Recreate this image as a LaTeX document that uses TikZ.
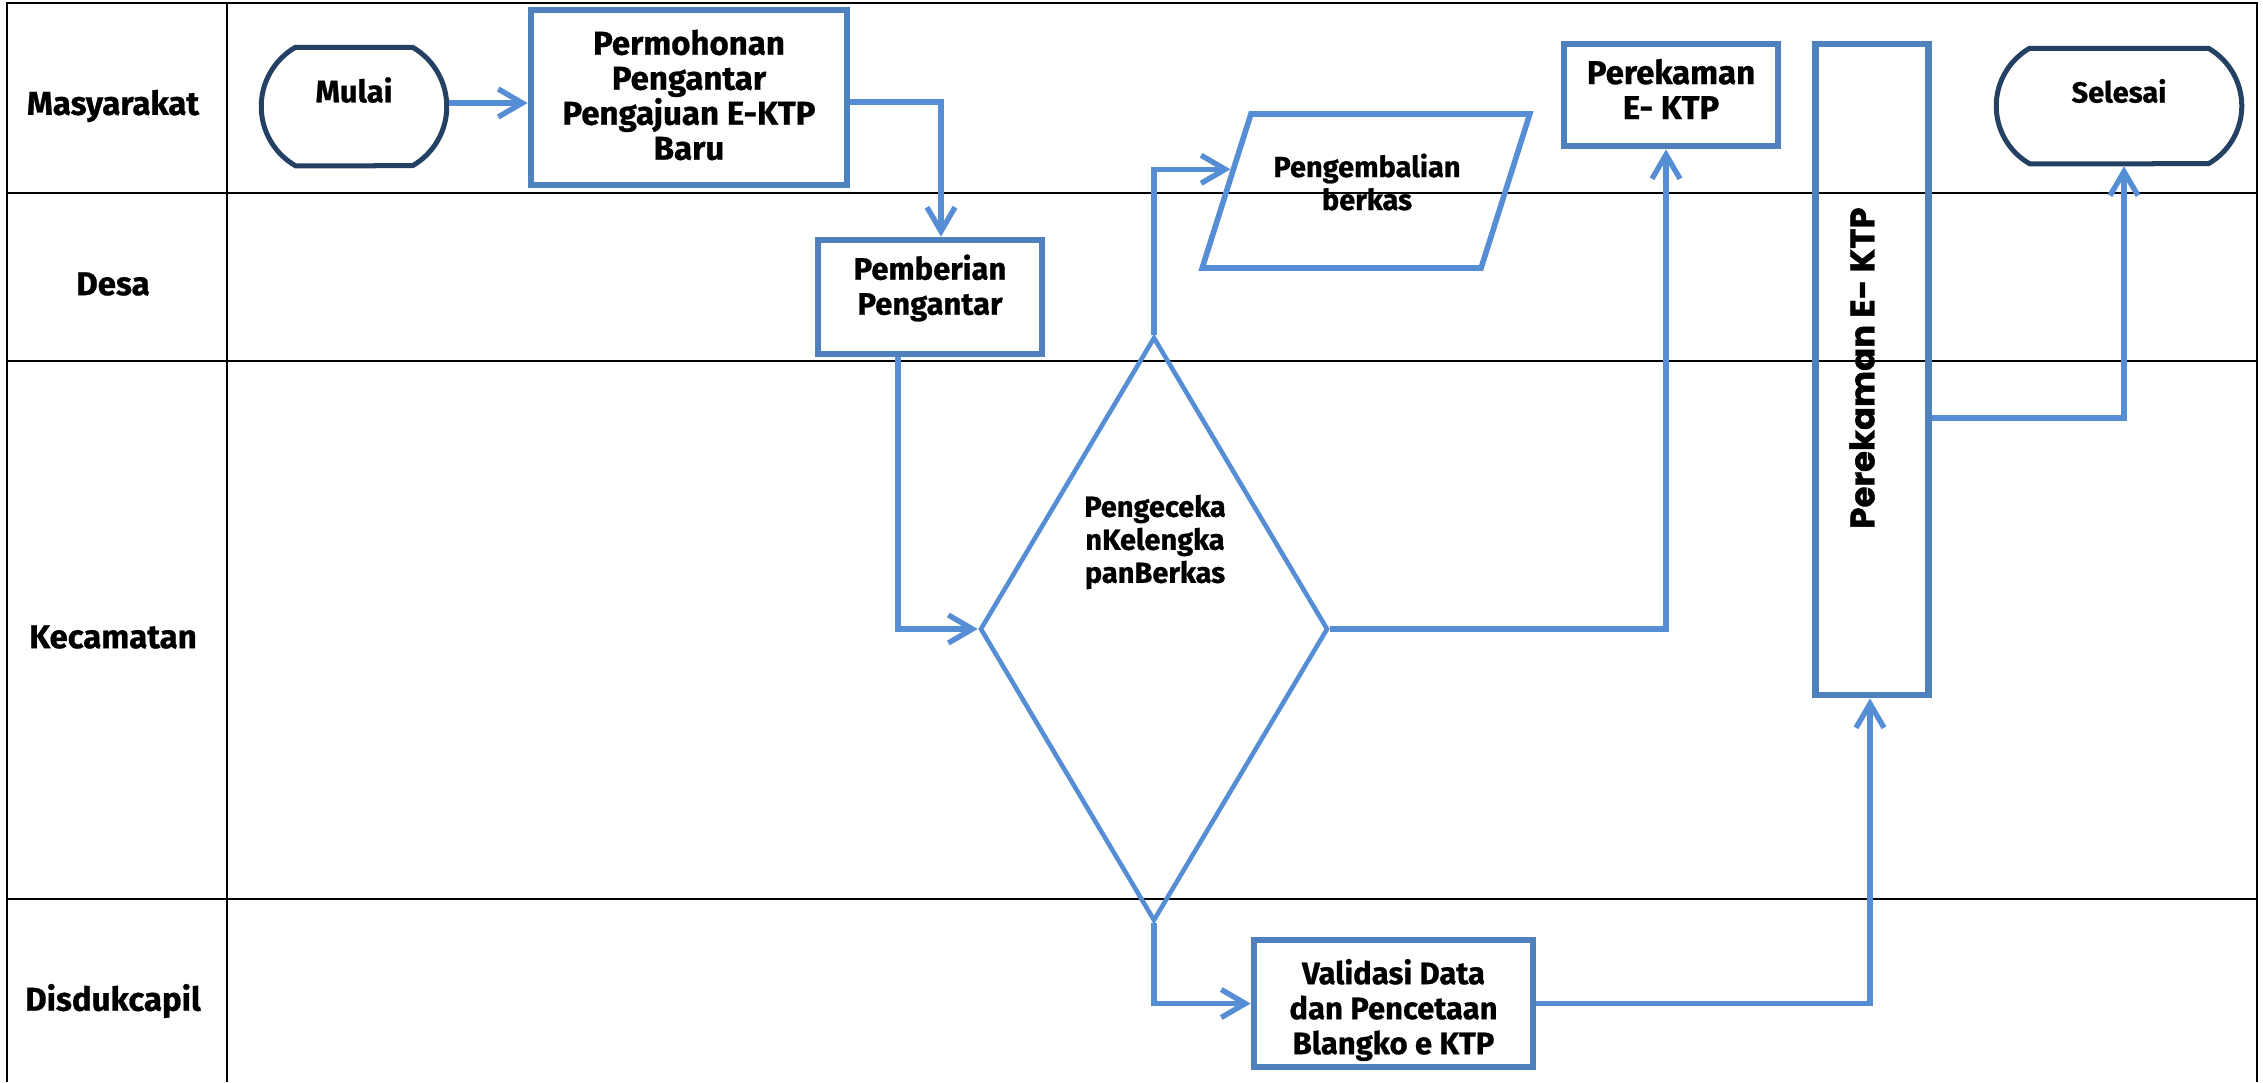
\documentclass[tikz,border=0pt]{standalone}
\usepackage{fontspec}
\setmainfont{Fira Sans}[BoldFeatures={FakeBold=0.8}]
\newfontfamily\tallfont{Poppins}[BoldFeatures={FakeBold=1.2}]
\usetikzlibrary{arrows.meta,shapes.geometric,shapes.misc,calc}
\definecolor{boxblue}{RGB}{79,129,189}
\definecolor{lineblue}{RGB}{85,142,213}
\definecolor{navyterm}{RGB}{36,64,98}
\begin{document}
\begin{tikzpicture}[x=0.5pt,y=-0.5pt,
  every node/.style={font=\bfseries\fontsize{15.5}{17.5}\selectfont, align=center, inner sep=0pt},
  lanegrid/.style={draw=black, line width=1.3pt},
  procbox/.style={draw=boxblue, line width=3.4pt, rectangle},
  termbox/.style={draw=navyterm, line width=2.5pt, rounded rectangle, rounded rectangle arc length=120},
  decbox/.style={draw=lineblue, line width=2.3pt, diamond},
  iobox/.style={draw=lineblue, line width=2.8pt, trapezium, trapezium left angle=76.5, trapezium right angle=103.5, trapezium stretches=true},
  flow/.style={draw=lineblue, line width=2.7pt, -{Straight Barb[length=12pt,width=14pt]}},
  smalltext/.style={font=\bfseries\fontsize{14.5}{16.5}\selectfont},
  bigtext/.style={font=\bfseries\fontsize{16.5}{17.5}\selectfont}
]
\useasboundingbox (0,0) rectangle (2263,1082);
% grid
\draw[lanegrid] (7,1082) -- (7,3) -- (2257,3) -- (2257,1082);
\draw[lanegrid] (227,3) -- (227,1082);
\draw[lanegrid] (7,193) -- (2257,193);
\draw[lanegrid] (7,361) -- (2257,361);
\draw[lanegrid] (7,899) -- (2257,899);
% lane labels
\node[bigtext] (lmas) at (113,106) {Masyarakat};
\node[bigtext] (ldes) at (113,284) {Desa};
\node[bigtext] (lkec) at (113,637) {Kecamatan};
\node[bigtext] (ldis) at (113,1001) {Disdukcapil};
% shapes
\node[termbox, minimum width=92.75pt, minimum height=59.25pt] (mulai) at (354,106.5) {};
\node (tmulai) at (354,90) {Mulai};
\node[procbox, minimum width=158pt, minimum height=87.5pt] (perm) at (689,97.5) {};
\node[bigtext] (tperm) at (689,95) {Permohonan\\Pengantar\\Pengajuan E-KTP\\Baru};
\node[procbox, minimum width=112pt, minimum height=57pt] (pemb) at (930,297) {};
\node (tpemb) at (930,288) {Pemberian\\Pengantar};
\node[decbox, minimum width=174pt, minimum height=292pt] (dia) at (1154,629) {};
\node[smalltext] (tdia) at (1155,542) {Pengeceka\\nKelengka\\panBerkas};
\node[iobox, minimum width=164pt, minimum height=77pt] (kembali) at (1366,191) {\phantom{M}};
\node[smalltext] (tkembali) at (1367,182) {Pengembalian\\berkas};
\node[procbox, minimum width=107pt, minimum height=51pt] (rek1) at (1671,95) {};
\node[bigtext] (trek1) at (1671,89) {Perekaman\\E- KTP};
\node[procbox, minimum width=56.5pt, minimum height=325.5pt] (rek2) at (1872,369.5) {};
\node[rotate=90, font=\tallfont\bfseries\fontsize{17}{20}\selectfont] (trek2) at (1862,368) {Perekaman E- KTP};
\node[termbox, minimum width=122.75pt, minimum height=57.75pt] (selesai) at (2119,106) {};
\node[smalltext] (tsel) at (2119,91) {Selesai};
\node[procbox, minimum width=139.5pt, minimum height=63.5pt] (valid) at (1393.5,1003.5) {};
\node (tvalid) at (1393.5,1010) {Validasi Data\\dan Pencetaan\\Blangko e KTP};
% connectors
\draw[flow] (mulai.east |- 0,103) -- (perm.west |- 0,103);
\draw[flow] (perm.east |- 0,102) -| ($(pemb.north)+(11,0)$);
\draw[flow] ($(pemb.south)+(-32,0)$) |- (dia.west);
\draw[flow] (dia.north) |- ($(kembali.top left corner)!0.364!(kembali.bottom left corner)$);
\draw[flow] (dia.east) -| ($(rek1.south)+(-5,0)$);
\draw[flow] (dia.south) |- (valid.west);
\draw[flow] (valid.east) -| ($(rek2.south)+(-2,0)$);
\draw[flow] ($(rek2.east)+(0,48.5)$) -| ($(selesai.south)+(5,0)$);
\end{tikzpicture}
\end{document}
